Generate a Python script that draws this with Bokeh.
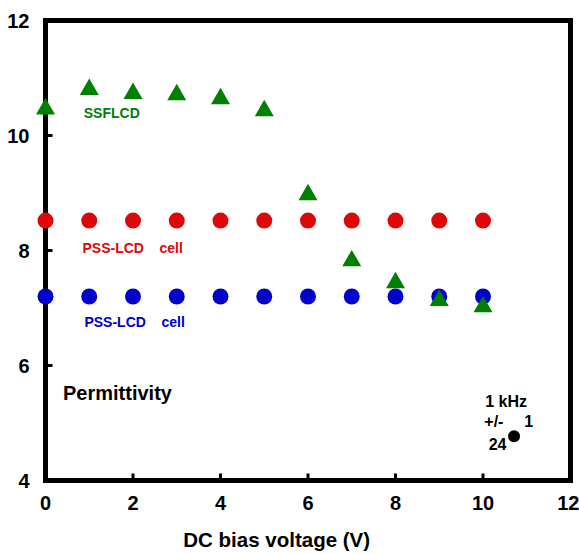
from bokeh.plotting import figure
from bokeh.models import Label, FixedTicker, Range1d
from bokeh.embed import file_html
from bokeh.resources import INLINE

# ---- data ----
voltage = [0, 1, 2, 3, 4, 5, 6, 7, 8, 9, 10]
ssflcd = [10.46, 10.80, 10.73, 10.71, 10.64, 10.43, 8.97, 7.82, 7.44, 7.13, 7.02]
pss_red = [8.52, 8.52, 8.52, 8.52, 8.52, 8.52, 8.52, 8.52, 8.52, 8.52, 8.52]
pss_blue = [7.2, 7.2, 7.2, 7.2, 7.2, 7.2, 7.2, 7.2, 7.2, 7.2, 7.2]
ref_x = [10.71]
ref_y = [4.77]
x_ticks = [0, 2, 4, 6, 8, 10, 12]
y_ticks = [4, 6, 8, 10, 12]
X0, X1, Y0, Y1 = 0, 12, 4, 12

FONT = "Liberation Sans"
GREEN = "#008000"
RED = "#dd0808"
BLUE = "#0000cc"
NB = "\u00a0"

p = figure(width=579, height=554, output_backend="svg", toolbar_location=None,
           x_range=Range1d(X0, X1), y_range=Range1d(Y0, Y1),
           min_border_left=45, min_border_right=9, min_border_top=20, min_border_bottom=74)
p.background_fill_color = "white"
p.border_fill_color = "white"
p.outline_line_color = None
p.xgrid.visible = False
p.ygrid.visible = False

for ax, ticks in ((p.xaxis[0], x_ticks), (p.yaxis[0], y_ticks)):
    ax.ticker = FixedTicker(ticks=ticks)
    ax.axis_line_color = None
    ax.major_tick_line_color = None
    ax.major_tick_in = 0
    ax.major_tick_out = 0
    ax.minor_tick_line_color = None
    ax.major_label_text_font = FONT
    ax.major_label_text_font_style = "bold"
    ax.major_label_text_font_size = "20px"
    ax.major_label_text_color = "black"
p.xaxis.major_label_standoff = 15
p.yaxis.major_label_standoff = 16

# x axis title (trailing non-breaking spaces shift it left, as in the original)
xa = p.xaxis[0]
xa.axis_label = "DC bias voltage (V)" + NB * 11
xa.axis_label_standoff = 15
xa.axis_label_text_font = FONT
xa.axis_label_text_font_style = "bold"
xa.axis_label_text_font_size = "20.5px"
xa.axis_label_text_color = "black"

# tick marks (filled, clipped to the frame so only the inner part shows)
xt = p.rect(x=x_ticks, y=[Y0] * len(x_ticks), width=3, height=14,
            width_units="screen", height_units="screen", fill_color="black", line_color=None)
yt = p.rect(x=[X0] * len(y_ticks), y=y_ticks, width=14, height=3,
            width_units="screen", height_units="screen", fill_color="black", line_color=None)
xt.level = "underlay"
yt.level = "underlay"

# frame box edges (filled bars, 5 px thick)
ext_y = (Y1 - Y0) * (1 + 5 / 460)
ext_x = (X1 - X0) * (1 + 5 / 525)
fv = p.rect(x=[X0, X1], y=[(Y0 + Y1) / 2] * 2, width=5, height=ext_y,
            width_units="screen", fill_color="black", line_color=None)
fh = p.rect(x=[(X0 + X1) / 2] * 2, y=[Y0, Y1], width=ext_x, height=5,
            height_units="screen", fill_color="black", line_color=None)
fv.level = "guide"
fh.level = "guide"

rs = []
rs.append(p.scatter(voltage, pss_red, marker="circle", size=16, fill_color=RED, line_color=None))
rs.append(p.scatter(voltage, pss_blue, marker="circle", size=16, fill_color=BLUE, line_color=None))
rs.append(p.scatter(voltage, ssflcd, marker="triangle", size=19, fill_color=GREEN, line_color=None))
rs.append(p.scatter(ref_x, ref_y, marker="circle", size=12, fill_color="black", line_color=None))
for r in rs:
    r.level = "overlay"

def lab(x, y, text, color="black", size="14px", align="left"):
    p.add_layout(Label(x=x, y=y, text=text, text_color=color, text_font=FONT,
                       text_font_style="bold", text_font_size=size,
                       text_align=align, text_baseline="middle"))

lab(0.875, 10.39, "SSFLCD", GREEN)
lab(0.846, 8.05, "PSS-LCD" + NB * 4 + "cell", RED)
lab(0.89, 6.75, "PSS-LCD" + NB * 4 + "cell", BLUE)
lab(0.40, 5.53, "Permittivity", "black", "20px")
lab(10.05, 5.37, "1 kHz", "black", "16px")
lab(10.03, 5.03, "+/-", "black", "16px")
lab(10.94, 5.03, "1", "black", "16px")
lab(10.13, 4.64, "24", "black", "16px")

open("out.html", "w").write(file_html(p, INLINE))
